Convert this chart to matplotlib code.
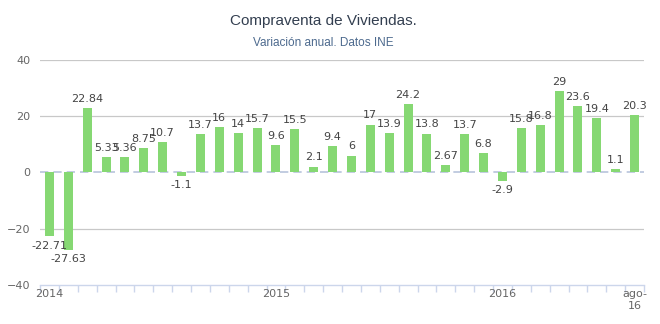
import numpy as np
import matplotlib.pyplot as plt

# variacion anual de compraventa de viviendas, ene-2014 .. ago-2016
meses = ['ene-14', 'feb-14', 'mar-14', 'abr-14', 'may-14', 'jun-14', 'jul-14', 'ago-14',
         'sep-14', 'oct-14', 'nov-14', 'dic-14',
         'ene-15', 'feb-15', 'mar-15', 'abr-15', 'may-15', 'jun-15', 'jul-15', 'ago-15',
         'sep-15', 'oct-15', 'nov-15', 'dic-15',
         'ene-16', 'feb-16', 'mar-16', 'abr-16', 'may-16', 'jun-16', 'jul-16', 'ago-16']
variacion = [-22.71, -27.63, 22.84, 5.33, 5.36, 8.75, 10.7, -1.1, 13.7, 16, 14, 15.7,
             9.6, 15.5, 2.1, 9.4, 6, 17, 13.9, 24.2, 13.8, 2.67, 13.7, 6.8,
             -2.9, 15.8, 16.8, 29, 23.6, 19.4, 1.1, 20.3]
etiquetas_x = {0: '2014', 12: '2015', 24: '2016', 31: 'ago-\n16'}

verde = '#86d873'
gris_txt = '#666666'
eje = '#ccd6eb'

fig = plt.figure(figsize=(6.6, 3.24), dpi=100)
ax = fig.add_axes([0.0606, 0.1204, 0.9152, 0.6946])

x = np.arange(len(variacion))
ax.bar(x, variacion, width=0.48, color=verde, zorder=3)

for xi, v in zip(x, variacion):
    txt = ('%g' % v)
    if v >= 0:
        ax.annotate(txt, (xi, v), xytext=(0, 3), textcoords='offset points',
                    ha='center', va='bottom', fontsize=8, color='#444444', zorder=4)
    else:
        ax.annotate(txt, (xi, v), xytext=(0, -3), textcoords='offset points',
                    ha='center', va='top', fontsize=8, color='#444444', zorder=4)

ax.set_xlim(-0.5, len(variacion) - 0.5)
ax.set_ylim(-40, 40)
ax.set_yticks([-40, -20, 0, 20, 40])
for yv in (20, 40, -20):
    ax.axhline(yv, color='#c8c8c8', lw=0.9, zorder=1)
ax.axhline(0, color='#b8c4dc', lw=1.2, ls=(0, (5, 3)), zorder=2)

# ticks entre categorias, etiquetas centradas en la barra
ax.set_xticks(np.arange(len(variacion) + 1) - 0.5)
ax.set_xticklabels([])
ax.set_xticks(list(etiquetas_x.keys()), minor=True)
ax.set_xticklabels(list(etiquetas_x.values()), minor=True)
ax.tick_params(axis='x', which='major', length=5, color=eje, width=1)
ax.tick_params(axis='x', which='minor', length=0, labelsize=8, labelcolor=gris_txt, pad=3)
ax.tick_params(axis='y', length=0, labelsize=8, labelcolor=gris_txt, pad=7)

for s in ('top', 'right', 'left'):
    ax.spines[s].set_visible(False)
ax.spines['bottom'].set_color(eje)
ax.spines['bottom'].set_linewidth(1)

fig.text(0.49, 0.935, 'Compraventa de Viviendas.', ha='center', va='center',
         fontsize=11, color='#333f50', family='Liberation Sans')
fig.text(0.49, 0.868, 'Variación anual. Datos INE', ha='center', va='center',
         fontsize=8.5, color='#4d6a8e', family='Liberation Sans')

fig.savefig('out.png', dpi=100)
